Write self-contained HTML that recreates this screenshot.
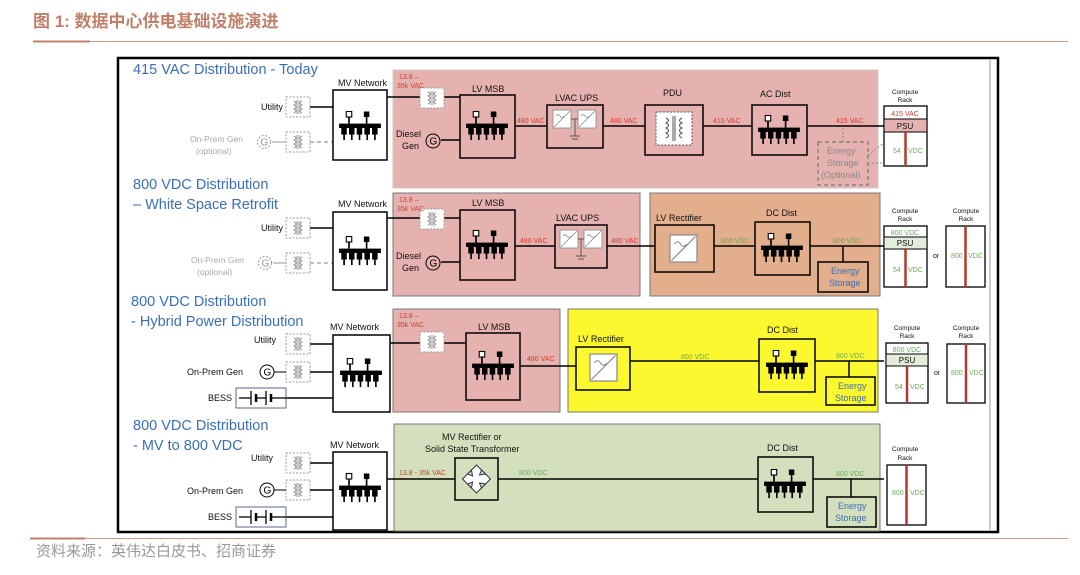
<!DOCTYPE html>
<html><head><meta charset="utf-8"><style>
html,body{margin:0;padding:0;background:#fff;width:1080px;height:575px;overflow:hidden}
svg{display:block}
text{font-family:"Liberation Sans","Noto Sans CJK SC",sans-serif}
.t{font-size:9px;fill:#111}
.bt{font-size:14.5px;fill:#3a6fb8}
.r{font-size:7px;fill:#d43a2a}
.g{font-size:7px;fill:#6aaa5a}
.gr{font-size:8.5px;fill:#aaa}
</style></head><body>
<svg width="1080" height="575" viewBox="0 0 1080 575" xmlns="http://www.w3.org/2000/svg">
<defs>
<g id="bus0">
 <line x1="-10" y1="-12" x2="-10" y2="-4" stroke="#000" stroke-width="1.5"/>
 <rect x="-12.5" y="-15" width="5" height="5" fill="#fff" stroke="#000" stroke-width="1"/>
 <line x1="6" y1="-12" x2="6" y2="-4" stroke="#000" stroke-width="1.5"/>
 <rect x="3.5" y="-15" width="5" height="5" fill="#000"/>
 <rect x="-19" y="-4" width="38" height="4" fill="#000"/>
 <g fill="#000">
  <rect x="-17" y="0" width="5" height="6"/><rect x="-10" y="0" width="5" height="6"/><rect x="-3" y="0" width="5" height="6"/><rect x="4" y="0" width="5" height="6"/><rect x="11" y="0" width="5" height="6"/>
  <rect x="-15.2" y="6" width="1.5" height="5"/><rect x="-8.2" y="6" width="1.5" height="5"/><rect x="-1.2" y="6" width="1.5" height="5"/><rect x="5.8" y="6" width="1.5" height="5"/><rect x="12.8" y="6" width="1.5" height="5"/>
 </g>
</g>
<g id="bus"><g transform="scale(1.1)"><use href="#bus0"/></g></g>
<g id="xf">
 <rect x="0" y="0" width="24" height="20" fill="#fff" stroke="#999" stroke-width="1" stroke-dasharray="2,1.5"/>
 <path d="M8 4 q4 2 0 4 q4 2 0 4 q4 2 0 4 M16 4 q-4 2 0 4 q-4 2 0 4 q-4 2 0 4" fill="none" stroke="#999" stroke-width="1"/>
 <line x1="11" y1="3" x2="11" y2="17" stroke="#999"/><line x1="13" y1="3" x2="13" y2="17" stroke="#999"/>
</g>
<g id="conv">
 <rect x="0" y="0" width="18" height="18" fill="#fff" stroke="#888" stroke-width="0.8"/>
 <line x1="1" y1="17" x2="17" y2="1" stroke="#888" stroke-width="0.8"/>
 <path d="M3 6 q2 -3 4 0 q2 3 4 0" fill="none" stroke="#888" stroke-width="0.7"/>
</g>
<g id="bess">
 <rect x="0" y="0" width="50" height="20" fill="#fff" stroke="#5a6a8a" stroke-width="1"/>
 <line x1="3" y1="10" x2="15" y2="10" stroke="#000" stroke-width="1.3"/>
 <line x1="15" y1="3" x2="15" y2="17" stroke="#000" stroke-width="1.3"/><line x1="20" y1="6" x2="20" y2="14" stroke="#000" stroke-width="2.5"/>
 <line x1="20" y1="10" x2="30" y2="10" stroke="#000" stroke-width="1.3"/>
 <line x1="30" y1="3" x2="30" y2="17" stroke="#000" stroke-width="1.3"/><line x1="35" y1="6" x2="35" y2="14" stroke="#000" stroke-width="2.5"/>
 <line x1="35" y1="10" x2="50" y2="10" stroke="#000" stroke-width="1.3"/>
</g>
</defs>

<text x="33" y="27" font-size="17" font-weight="bold" fill="#c0806a">图 1:  数据中心供电基础设施演进</text>
<line x1="33" y1="41.5" x2="1068" y2="41.5" stroke="#d09a85" stroke-width="1"/>
<line x1="33" y1="41.5" x2="90" y2="41.5" stroke="#c0806a" stroke-width="2"/>

<rect x="118" y="58" width="880" height="474" fill="#fff" stroke="#000" stroke-width="2.5"/>
<line x1="990" y1="60" x2="990" y2="530" stroke="#999" stroke-width="1"/>

<rect x="393" y="70" width="485" height="118" fill="#e6b2b0" stroke="#c9c9c9"/>
<rect x="393" y="193" width="247" height="103" fill="#e6b2b0" stroke="#777"/>
<rect x="650" y="193" width="230" height="103" fill="#e2ae8b" stroke="#777"/>
<rect x="393" y="309" width="167" height="103" fill="#e6b2b0" stroke="#777"/>
<rect x="568" y="309" width="310" height="103" fill="#fbf830" stroke="#777"/>
<rect x="394" y="424" width="486" height="107" fill="#d4e0bd" stroke="#777"/>

<text class="bt" x="133" y="74">415 VAC Distribution - Today</text>
<text class="bt" x="133" y="189">800 VDC Distribution</text>
<text class="bt" x="133" y="209">– White Space Retrofit</text>
<text class="bt" x="131" y="306">800 VDC Distribution</text>
<text class="bt" x="131" y="326">- Hybrid Power Distribution</text>
<text class="bt" x="133" y="430">800 VDC Distribution</text>
<text class="bt" x="133" y="450">- MV to 800 VDC</text>

<g stroke="#000" stroke-width="1.5" fill="none">
<line x1="310" y1="107" x2="333" y2="107"/>
<line x1="387" y1="97" x2="460" y2="97" />
<line x1="515" y1="126" x2="547" y2="126"/>
<line x1="603" y1="126" x2="645" y2="126"/>
<line x1="703" y1="126" x2="752" y2="126"/>
<line x1="807" y1="126" x2="884" y2="126"/>
<line x1="441" y1="140" x2="460" y2="140"/>
<line x1="310" y1="228" x2="333" y2="228"/>
<line x1="387" y1="218" x2="460" y2="218"/>
<line x1="515" y1="246" x2="555" y2="246"/>
<line x1="607" y1="246" x2="655" y2="246"/>
<line x1="714" y1="246" x2="755" y2="246"/>
<line x1="810" y1="246" x2="884" y2="246"/>
<line x1="843" y1="246" x2="843" y2="262"/>
<line x1="441" y1="262" x2="460" y2="262"/>
<line x1="310" y1="344" x2="333" y2="344"/>
<line x1="310" y1="372" x2="333" y2="372"/>
<line x1="286" y1="398" x2="333" y2="398"/>
<line x1="390" y1="343" x2="466" y2="343"/>
<line x1="520" y1="366" x2="576" y2="366"/>
<line x1="630" y1="361" x2="759" y2="361"/>
<line x1="815" y1="361" x2="884" y2="361"/>
<line x1="849" y1="361" x2="849" y2="377"/>
<line x1="310" y1="463" x2="333" y2="463"/>
<line x1="310" y1="490" x2="333" y2="490"/>
<line x1="286" y1="517" x2="333" y2="517"/>
<line x1="387" y1="479" x2="455" y2="479"/>
<line x1="498" y1="479" x2="758" y2="479"/>
<line x1="813" y1="479" x2="884" y2="479"/>
<line x1="851" y1="479" x2="851" y2="497"/>
</g>
<line x1="310" y1="142" x2="333" y2="142" stroke="#999" stroke-width="1.3" stroke-dasharray="4,3"/>
<line x1="272" y1="142" x2="286" y2="142" stroke="#999" stroke-width="1"/>
<line x1="273" y1="263" x2="286" y2="263" stroke="#999" stroke-width="1"/>
<line x1="310" y1="263" x2="333" y2="263" stroke="#999" stroke-width="1.3" stroke-dasharray="4,3"/>

<g fill="none" stroke="#000" stroke-width="1.5">
<rect x="333" y="90" width="54" height="70" fill="#fff"/>
<rect x="460" y="95" width="55" height="63"/>
<rect x="547" y="105" width="56" height="43"/>
<rect x="645" y="105" width="58" height="50"/>
<rect x="752" y="105" width="55" height="50"/>
<rect x="333" y="212" width="54" height="78" fill="#fff"/>
<rect x="460" y="210" width="55" height="70"/>
<rect x="555" y="225" width="52" height="43"/>
<rect x="655" y="225" width="59" height="47"/>
<rect x="755" y="222" width="55" height="53"/>
<rect x="818" y="262" width="50" height="30"/>
<rect x="333" y="335" width="57" height="77" fill="#fff"/>
<rect x="466" y="333" width="54" height="67"/>
<rect x="576" y="347" width="54" height="43"/>
<rect x="759" y="339" width="56" height="53"/>
<rect x="826" y="377" width="49" height="28"/>
<rect x="333" y="452" width="54" height="78" fill="#fff"/>
<rect x="455" y="458" width="43" height="42"/>
<rect x="758" y="457" width="55" height="55"/>
<rect x="827" y="497" width="49" height="30"/>
</g>

<use href="#bus" x="360" y="128"/>
<use href="#bus" x="487" y="128"/>
<use href="#bus" x="779" y="132"/>
<use href="#bus" x="360" y="253"/>
<use href="#bus" x="487" y="247"/>
<use href="#bus" x="782" y="250"/>
<use href="#bus" x="361" y="375"/>
<use href="#bus" x="493" y="368"/>
<use href="#bus" x="787" y="367"/>
<use href="#bus" x="360" y="490"/>
<use href="#bus" x="785" y="486"/>

<use href="#xf" x="286" y="97"/>
<use href="#xf" x="286" y="132"/>
<use href="#xf" x="420" y="88"/>
<use href="#xf" x="286" y="218"/>
<use href="#xf" x="286" y="253"/>
<use href="#xf" x="420" y="209"/>
<use href="#xf" x="286" y="334"/>
<use href="#xf" x="286" y="362"/>
<use href="#xf" x="420" y="332"/>
<use href="#xf" x="286" y="453"/>
<use href="#xf" x="286" y="480"/>
<rect x="656" y="112" width="36" height="33" fill="#fff" stroke="#555" stroke-dasharray="2,1.5"/>
<path d="M666 118 q5 2.5 0 5 q5 2.5 0 5 q5 2.5 0 5 q5 2.5 0 5 M682 118 q-5 2.5 0 5 q-5 2.5 0 5 q-5 2.5 0 5 q-5 2.5 0 5" fill="none" stroke="#555"/>
<line x1="673" y1="116" x2="673" y2="141" stroke="#555"/><line x1="675" y1="116" x2="675" y2="141" stroke="#555"/>

<use href="#conv" x="553" y="110"/><use href="#conv" x="578" y="110"/>
<line x1="571" y1="119" x2="578" y2="119" stroke="#555"/><line x1="575" y1="119" x2="575" y2="136" stroke="#555"/>
<line x1="570" y1="136" x2="580" y2="136" stroke="#555"/><line x1="572" y1="139" x2="578" y2="139" stroke="#555"/>
<use href="#conv" x="560" y="230"/><use href="#conv" x="584" y="230"/>
<line x1="578" y1="239" x2="584" y2="239" stroke="#555"/><line x1="581" y1="239" x2="581" y2="256" stroke="#555"/>
<line x1="576" y1="256" x2="586" y2="256" stroke="#555"/><line x1="578" y1="259" x2="584" y2="259" stroke="#555"/>
<g transform="translate(670,235) scale(1.5)"><use href="#conv"/></g>
<g transform="translate(590,354) scale(1.5)"><use href="#conv"/></g>
<g transform="translate(476.5,479)" fill="none" stroke="#333" stroke-width="1">
<polygon points="0,-14 14,0 0,14 -14,0" fill="#fff"/>
<polygon points="-9,-5 -5,-9 -4,-3" fill="#cde"/><polygon points="5,-9 9,-5 3,-4" fill="#cde"/>
<polygon points="-9,5 -5,9 -4,3" fill="#cde"/><polygon points="5,9 9,5 3,4" fill="#cde"/>
</g>

<g font-family="Liberation Sans" font-size="10">
<circle cx="264" cy="142" r="6.5" fill="#fff" stroke="#999" stroke-dasharray="2,1.5"/><text x="260.5" y="145.5" fill="#999">G</text>
<circle cx="265" cy="263" r="6.5" fill="#fff" stroke="#999" stroke-dasharray="2,1.5"/><text x="261.5" y="266.5" fill="#999">G</text>
<circle cx="267" cy="372" r="7" fill="#fff" stroke="#000"/><text x="263.5" y="375.5">G</text>
<circle cx="267" cy="490" r="7" fill="#fff" stroke="#000"/><text x="263.5" y="493.5">G</text>
<circle cx="433" cy="141" r="7" fill="#e6b2b0" stroke="#000"/><text x="429.5" y="144.5">G</text>
<circle cx="433" cy="263" r="7" fill="#e6b2b0" stroke="#000"/><text x="429.5" y="266.5">G</text>
</g>
<line x1="274" y1="372" x2="286" y2="372" stroke="#000"/>
<line x1="274" y1="490" x2="286" y2="490" stroke="#000"/>
<use href="#bess" x="236" y="388"/>
<use href="#bess" x="236" y="507"/>

<g class="t">
<text x="338" y="86">MV Network</text><text x="338" y="207">MV Network</text><text x="330" y="330">MV Network</text><text x="330" y="448">MV Network</text>
<text x="472" y="92">LV MSB</text><text x="472" y="206">LV MSB</text><text x="478" y="330">LV MSB</text>
<text x="555" y="101">LVAC UPS</text><text x="556" y="221">LVAC UPS</text>
<text x="663" y="96">PDU</text><text x="760" y="97">AC Dist</text>
<text x="656" y="221">LV Rectifier</text><text x="578" y="342">LV Rectifier</text>
<text x="766" y="216">DC Dist</text><text x="767" y="333">DC Dist</text><text x="767" y="451">DC Dist</text>
<text x="442" y="440">MV Rectifier or</text><text x="425" y="452">Solid State Transformer</text>
<text x="396" y="137">Diesel</text><text x="402" y="149">Gen</text>
<text x="396" y="259">Diesel</text><text x="402" y="271">Gen</text>
<text x="261" y="110">Utility</text><text x="261" y="231">Utility</text><text x="254" y="343">Utility</text><text x="251" y="461">Utility</text>
<text x="187" y="375">On-Prem Gen</text><text x="187" y="494">On-Prem Gen</text>
<text x="208" y="401">BESS</text><text x="208" y="520">BESS</text>
</g>
<g class="gr"><text x="190" y="142">On-Prem Gen</text><text x="196" y="154">(optional)</text>
<text x="191" y="263">On-Prem Gen</text><text x="197" y="275">(optional)</text></g>

<g class="r">
<text x="399" y="79">13.8 –</text><text x="397" y="88">35k VAC</text>
<text x="399" y="202">13.8 –</text><text x="397" y="211">35k VAC</text>
<text x="399" y="318">13.8 –</text><text x="397" y="327">35k VAC</text>
<text x="517" y="123">480 VAC</text><text x="610" y="123">480 VAC</text><text x="713" y="123">415 VAC</text><text x="836" y="123">415 VAC</text>
<text x="520" y="243">480 VAC</text><text x="611" y="243">480 VAC</text>
<text x="527" y="361">480 VAC</text>
<text x="399" y="475">13.8 - 35k VAC</text>
</g>
<g class="g">
<text x="721" y="243">800 VDC</text><text x="833" y="243">800 VDC</text>
<text x="681" y="359">800 VDC</text><text x="836" y="358">800 VDC</text>
<text x="519" y="475">800 VDC</text><text x="836" y="476">800 VDC</text>
</g>

<rect x="818" y="142" width="50" height="43" fill="none" stroke="#777" stroke-width="1.2" stroke-dasharray="4,3"/>
<line x1="843" y1="128" x2="843" y2="142" stroke="#888" stroke-dasharray="2,2"/>
<path d="M868 163 L896 163 M868 155 L888 140" stroke="#888" fill="none" stroke-dasharray="2,2"/>
<g font-size="9" fill="#888"><text x="827" y="154">Energy</text><text x="827" y="166">Storage</text><text x="821" y="178">(Optional)</text></g>
<g font-size="9" fill="#3a6fb8"><text x="831" y="274">Energy</text><text x="829" y="286">Storage</text>
<text x="838" y="389">Energy</text><text x="835" y="401">Storage</text>
<text x="838" y="509">Energy</text><text x="835" y="521">Storage</text></g>

<g font-size="6.5" fill="#111" text-anchor="middle">
<text x="905" y="94">Compute</text><text x="905" y="102">Rack</text>
<text x="905" y="213">Compute</text><text x="905" y="221">Rack</text>
<text x="966" y="213">Compute</text><text x="966" y="221">Rack</text>
<text x="907" y="330">Compute</text><text x="907" y="338">Rack</text>
<text x="966" y="330">Compute</text><text x="966" y="338">Rack</text>
<text x="905" y="451">Compute</text><text x="905" y="460">Rack</text>
</g>
<rect x="884" y="106" width="43" height="60" fill="#fff" stroke="#000" stroke-width="1.3"/>
<rect x="884" y="119" width="43" height="13" fill="#e6b2b0" stroke="#000"/>
<line x1="905.5" y1="132" x2="905.5" y2="166" stroke="#b03a30" stroke-width="2.5"/>
<text x="905" y="116" font-size="7" fill="#d43a2a" text-anchor="middle">415 VAC</text>
<text x="905" y="129" font-size="8" fill="#111" text-anchor="middle">PSU</text>
<text x="893" y="153" class="g">54</text><text x="908" y="153" class="g">VDC</text>
<rect x="884" y="226" width="43" height="61" fill="#fff" stroke="#000" stroke-width="1.3"/>
<rect x="884" y="237" width="43" height="12" fill="#e3eddb" stroke="#000"/>
<line x1="905.5" y1="249" x2="905.5" y2="287" stroke="#b03a30" stroke-width="2.5"/>
<text x="905" y="235" class="g" text-anchor="middle">800 VDC</text>
<text x="905" y="246" font-size="8" fill="#111" text-anchor="middle">PSU</text>
<text x="893" y="272" class="g">54</text><text x="908" y="272" class="g">VDC</text>
<text x="933" y="258" font-size="7" fill="#111">or</text>
<rect x="946" y="226" width="39" height="61" fill="#fff" stroke="#000" stroke-width="1.3"/>
<line x1="965.5" y1="226" x2="965.5" y2="287" stroke="#b03a30" stroke-width="2.5"/>
<text x="951" y="258" class="g">800</text><text x="968" y="258" class="g">VDC</text>
<rect x="886" y="343" width="42" height="60" fill="#fff" stroke="#000" stroke-width="1.3"/>
<rect x="886" y="354" width="42" height="12" fill="#e3eddb" stroke="#000"/>
<line x1="907" y1="366" x2="907" y2="403" stroke="#b03a30" stroke-width="2.5"/>
<text x="907" y="352" class="g" text-anchor="middle">800 VDC</text>
<text x="907" y="363" font-size="8" fill="#111" text-anchor="middle">PSU</text>
<text x="895" y="389" class="g">54</text><text x="910" y="389" class="g">VDC</text>
<text x="934" y="375" font-size="7" fill="#111">or</text>
<rect x="947" y="344" width="38" height="59" fill="#fff" stroke="#000" stroke-width="1.3"/>
<line x1="966" y1="344" x2="966" y2="403" stroke="#b03a30" stroke-width="2.5"/>
<text x="951" y="375" class="g">800</text><text x="969" y="375" class="g">VDC</text>
<rect x="887" y="465" width="39" height="60" fill="#fff" stroke="#000" stroke-width="1.3"/>
<line x1="906.5" y1="465" x2="906.5" y2="525" stroke="#b03a30" stroke-width="2.5"/>
<text x="892" y="495" class="g">800</text><text x="910" y="495" class="g">VDC</text>

<line x1="30" y1="538.5" x2="1068" y2="538.5" stroke="#d09a85" stroke-width="1"/>
<line x1="30" y1="538.5" x2="85" y2="538.5" stroke="#c0806a" stroke-width="2"/>
<text x="36" y="556" font-size="15" fill="#999">资料来源：英伟达白皮书、招商证券</text>
</svg>
</body></html>
